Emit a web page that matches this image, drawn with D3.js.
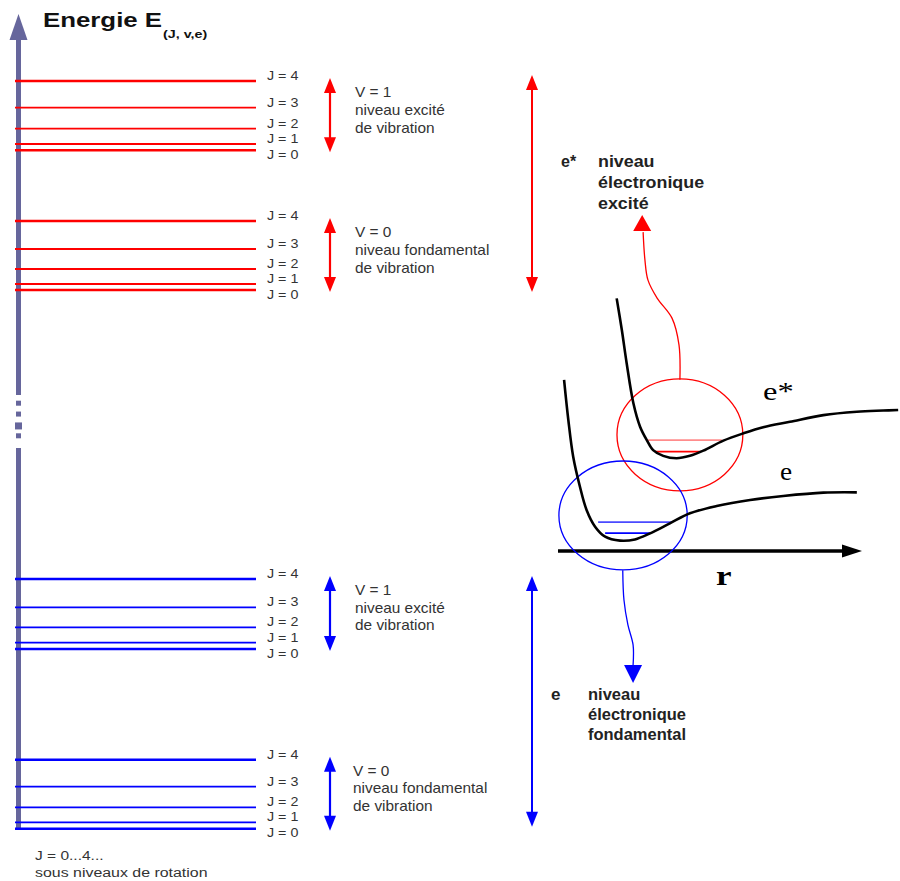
<!DOCTYPE html>
<html>
<head>
<meta charset="utf-8">
<script src="https://cdn.jsdelivr.net/npm/d3@7"></script>
<style>
  html, body { margin: 0; padding: 0; background: #fff; }
  svg { display: block; }
</style>
</head>
<body>
<svg id="chart" width="900" height="881"></svg>
<script>
// ---------------- DATA ----------------
// rotational sub-level labels (J = 0..4)
const jLabels = ["J = 0", "J = 1", "J = 2", "J = 3", "J = 4"];
// energies (arbitrary units) of rotational sub-levels J=0..4 for each vibrational level
const groundV0 = [1.3, 7.7, 22.7, 43.3, 70.3];
const groundV1 = [181, 187.3, 202.7, 222.7, 251];
const excitedV0 = [540, 546, 561, 581, 609];
const excitedV1 = [679.7, 686, 701.3, 722.3, 749];
// vibrational level captions
const vibTitles = ["V = 0", "V = 1"];
const vibLines = [["niveau fondamental", "de vibration"], ["niveau excité", "de vibration"]];
// electronic level captions
const excitedLabel = ["e*", "niveau", "électronique", "excité"];
const groundLabel = ["e", "niveau", "électronique", "fondamental"];
// energy-axis break (energy units)
const axisBreak = [385, 435];
// potential curves: [r, V] (arbitrary units)
const excitedCurve = [[1.93,8.31],[2.10,7.27],[2.26,6.17],[2.48,4.86],[2.70,4.09],[2.92,3.65],[3.13,3.32],[3.46,3.13],[3.90,3.05],[4.34,3.13],[4.78,3.30],[5.44,3.63],[6.10,3.87],[6.75,4.07],[7.63,4.25],[8.73,4.47],[9.83,4.58],[10.70,4.62],[11.19,4.64]];
const groundCurve = [[0.20,5.63],[0.34,4.31],[0.50,3.10],[0.72,2.12],[0.94,1.35],[1.22,0.80],[1.55,0.47],[2.04,0.34],[2.53,0.38],[3.03,0.58],[3.68,0.91],[4.34,1.24],[5.22,1.48],[6.32,1.68],[7.41,1.81],[8.73,1.92],[9.83,1.93]];
// vibrational levels drawn inside the wells: [rStart, rEnd, V]
const excitedWellLevels = [[2.96, 5.39, 3.65], [3.19, 4.70, 3.27]];
const groundWellLevels = [[1.32, 3.78, 0.95], [1.55, 3.03, 0.59]];
// zoom ellipses: [rCenter, VCenter, rRadius, VRadius]
const excitedEllipse = [4.01, 3.82, 2.07, 1.84];
const groundEllipse = [2.14, 1.17, 2.11, 1.79];
// connectors from ellipses to captions: [r, V]
const excitedConnector = [[4.01,5.63],[3.98,6.78],[3.75,7.66],[3.26,8.32],[2.96,8.91],[2.86,9.57],[2.80,10.49]];
const excitedArrowTip = [2.77, 11.05];
const groundConnector = [[2.13,-0.63],[2.17,-1.61],[2.30,-2.43],[2.47,-3.09],[2.47,-3.75]];
const groundArrowTip = [2.47, -4.34];

// ---------------- SETUP ----------------
const svg = d3.select("#chart");
const FONT = "'Liberation Sans', Arial, Helvetica, sans-serif";
const SERIF = "'Liberation Serif', 'Times New Roman', serif";
const RED = "#ff0000", BLUE = "#0000ff", AXIS = "#66669c", TXT = "#333333";

// energy scale (left panel)
const eScale = d3.scaleLinear().domain([0, 800]).range([830, 30]);
// level line horizontal extent
const levelX = d3.scaleLinear().domain([0, 1]).range([15, 256]);
// right panel scales
const rScale = d3.scaleLinear().domain([0, 10]).range([558, 862]);
const vScale = d3.scaleLinear().domain([0, 10]).range([551, 247]);

function addText(g, x, y, str, o) {
  o = o || {};
  return g.append("text")
    .attr("transform", `translate(${x},${y}) scale(${o.sx || 1},1)`)
    .attr("font-family", o.family || FONT)
    .attr("font-size", o.size || 13)
    .attr("font-weight", o.weight || "normal")
    .attr("fill", o.fill || TXT)
    .text(str);
}

// ---------------- ENERGY AXIS ----------------
const axisG = svg.append("g");
const axisX = 18.5;
axisG.append("line")
  .attr("x1", axisX).attr("x2", axisX)
  .attr("y1", eScale(0)).attr("y2", eScale(axisBreak[0]) + 3)
  .attr("stroke", AXIS).attr("stroke-width", 5);
axisG.append("line")
  .attr("x1", axisX).attr("x2", axisX)
  .attr("y1", eScale(axisBreak[1])).attr("y2", 38)
  .attr("stroke", AXIS).attr("stroke-width", 5);
// dotted break
const breakDots = d3.range(4).map(i => axisBreak[1] - (i + 0.8) * (axisBreak[1] - axisBreak[0]) / 4.6);
axisG.selectAll("rect.dot").data(breakDots).enter().append("rect")
  .attr("x", (d, i) => axisX - (i === 2 ? 3.5 : 2.5))
  .attr("width", (d, i) => i === 2 ? 7 : 5)
  .attr("y", d => eScale(d) - 3)
  .attr("height", (d, i) => i === 2 ? 7 : 5)
  .attr("fill", AXIS);
axisG.append("path")
  .attr("d", `M${axisX},14 L${axisX - 9},40 L${axisX + 9},40 Z`)
  .attr("fill", AXIS);

// title
addText(svg, 43, 27, "Energie E", { size: 21, weight: "bold", fill: "#111", sx: 1.23 });
addText(svg, 163, 38, "(J, v,e)", { size: 11, weight: "bold", fill: "#111", sx: 1.3 });

// ---------------- ROTATIONAL LEVELS ----------------
const groups = [
  { levels: groundV0, color: BLUE, v: 0, tx: 353 },
  { levels: groundV1, color: BLUE, v: 1, tx: 355 },
  { levels: excitedV0, color: RED, v: 0, tx: 355 },
  { levels: excitedV1, color: RED, v: 1, tx: 355 }
];

function arrowHead(g, x, yTip, dir, color, w, h) {
  g.append("path")
    .attr("d", `M${x},${yTip} L${x - w / 2},${yTip - dir * h} L${x + w / 2},${yTip - dir * h} Z`)
    .attr("fill", color);
}

function doubleArrow(g, x, yTop, yBot, color, w, h, sw) {
  g.append("line").attr("x1", x).attr("x2", x)
    .attr("y1", yTop + h - 2).attr("y2", yBot - h + 2)
    .attr("stroke", color).attr("stroke-width", sw);
  arrowHead(g, x, yTop, -1, color, w, h);
  arrowHead(g, x, yBot, 1, color, w, h);
}

groups.forEach(gr => {
  const g = svg.append("g");
  g.selectAll("line.level").data(gr.levels).enter().append("line")
    .attr("x1", levelX(0)).attr("x2", levelX(1))
    .attr("y1", d => eScale(d)).attr("y2", d => eScale(d))
    .attr("stroke", gr.color).attr("stroke-width", (d, i) => (i === 4 || i === 0) ? 2.4 : 1.8);
  g.selectAll("text.jl").data(gr.levels).enter().append("text")
    .attr("transform", (d, i) => `translate(267,${eScale(d) + (i === 0 ? 8.5 : -1)}) scale(1.1,1)`)
    .attr("font-family", FONT).attr("font-size", 13).attr("fill", TXT)
    .text((d, i) => jLabels[i]);
  const yTop = eScale(d3.max(gr.levels)) - 3;
  const yBot = eScale(d3.min(gr.levels)) + 2;
  doubleArrow(g, 330, yTop, yBot, gr.color, 12, 15, 2.2);
  const cy = yTop + 19;
  addText(g, gr.tx, cy, vibTitles[gr.v], { size: 14, sx: 1.1 });
  vibLines[gr.v].forEach((t, i) => addText(g, gr.tx, cy + 18 * (i + 1) - (gr.color === BLUE ? i * 0.5 + 0.5 : 0), t, { size: 14, sx: 1.1 }));
});

// electronic-level double arrows
const elecG = svg.append("g");
doubleArrow(elecG, 532, eScale(d3.max(excitedV1)) - 6, eScale(d3.min(excitedV0)) + 2, RED, 12, 15, 2);
doubleArrow(elecG, 532, eScale(d3.max(groundV1)) - 3, eScale(d3.min(groundV0)) - 2, BLUE, 12, 15, 2);

// electronic captions
addText(elecG, 561, 167, excitedLabel[0], { size: 16, weight: "bold", fill: "#222" });
excitedLabel.slice(1).forEach((t, i) => addText(elecG, 598, 167 + 20.8 * i, t, { size: 17, weight: "bold", fill: "#222", sx: 1.05 }));
addText(elecG, 551, 700, groundLabel[0], { size: 17, weight: "bold", fill: "#222" });
groundLabel.slice(1).forEach((t, i) => addText(elecG, 588, 700 + 20 * i, t, { size: 17, weight: "bold", fill: "#222", sx: 0.97 }));

// bottom note
addText(svg, 35, 860, "J = 0...4...", { size: 13.5, sx: 1.15 });
addText(svg, 35, 877, "sous niveaux de rotation", { size: 13.5, sx: 1.18 });

// ---------------- POTENTIAL CURVES PANEL ----------------
const pg = svg.append("g");
const lineGen = d3.line().x(d => rScale(d[0])).y(d => vScale(d[1])).curve(d3.curveCatmullRom.alpha(0.5));

// r axis
pg.append("line")
  .attr("x1", rScale(0)).attr("x2", rScale(10) - 16)
  .attr("y1", vScale(0)).attr("y2", vScale(0))
  .attr("stroke", "#000").attr("stroke-width", 3.5);
pg.append("path")
  .attr("d", `M${rScale(10)},${vScale(0)} L${rScale(10) - 20},${vScale(0) - 6.5} L${rScale(10) - 20},${vScale(0) + 6.5} Z`)
  .attr("fill", "#000");
addText(pg, 716, 585, "r", { size: 27, weight: "bold", family: SERIF, fill: "#000", sx: 1.3 });

// ellipses
[[excitedEllipse, RED], [groundEllipse, BLUE]].forEach(([e, c]) => {
  pg.append("ellipse")
    .attr("cx", rScale(e[0])).attr("cy", vScale(e[1]))
    .attr("rx", rScale(e[2]) - rScale(0)).attr("ry", vScale(0) - vScale(e[3]))
    .attr("fill", "none").attr("stroke", c).attr("stroke-width", 1.3);
});

// well levels
pg.selectAll("line.ew").data(excitedWellLevels).enter().append("line")
  .attr("x1", d => rScale(d[0])).attr("x2", d => rScale(d[1]))
  .attr("y1", d => vScale(d[2])).attr("y2", d => vScale(d[2]))
  .attr("stroke", (d, i) => i === 0 ? "#ff8c8c" : RED).attr("stroke-width", 1.8);
pg.selectAll("line.gw").data(groundWellLevels).enter().append("line")
  .attr("x1", d => rScale(d[0])).attr("x2", d => rScale(d[1]))
  .attr("y1", d => vScale(d[2])).attr("y2", d => vScale(d[2]))
  .attr("stroke", (d, i) => i === 0 ? "#4a4aff" : BLUE).attr("stroke-width", 1.8);

// curves
pg.append("path").attr("d", lineGen(excitedCurve))
  .attr("fill", "none").attr("stroke", "#000").attr("stroke-width", 2.6);
pg.append("path").attr("d", lineGen(groundCurve))
  .attr("fill", "none").attr("stroke", "#000").attr("stroke-width", 2.6);

addText(pg, 763, 400, "e*", { size: 26, family: SERIF, fill: "#000", sx: 1.25 });
addText(pg, 780, 480, "e", { size: 26, family: SERIF, fill: "#000", sx: 1.05 });

// connectors
pg.append("path").attr("d", lineGen(excitedConnector))
  .attr("fill", "none").attr("stroke", RED).attr("stroke-width", 1.3);
pg.append("path")
  .attr("d", `M${rScale(excitedArrowTip[0])},${vScale(excitedArrowTip[1])} L${rScale(excitedArrowTip[0]) - 9},${vScale(excitedArrowTip[1]) + 16} L${rScale(excitedArrowTip[0]) + 9},${vScale(excitedArrowTip[1]) + 16} Z`)
  .attr("fill", RED);
pg.append("path").attr("d", lineGen(groundConnector))
  .attr("fill", "none").attr("stroke", BLUE).attr("stroke-width", 1.3);
pg.append("path")
  .attr("d", `M${rScale(groundArrowTip[0])},${vScale(groundArrowTip[1])} L${rScale(groundArrowTip[0]) - 9},${vScale(groundArrowTip[1]) - 18} L${rScale(groundArrowTip[0]) + 9},${vScale(groundArrowTip[1]) - 18} Z`)
  .attr("fill", BLUE);
</script>
</body>
</html>
